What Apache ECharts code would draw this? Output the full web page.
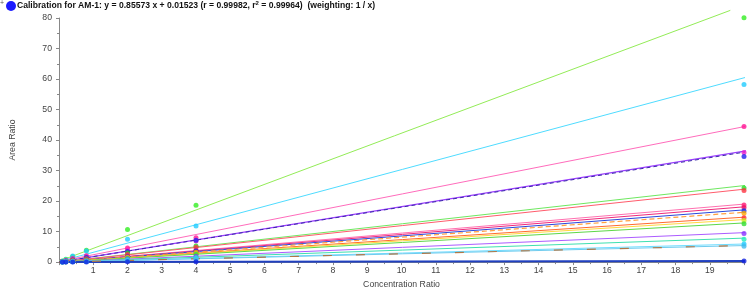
<!DOCTYPE html>
<html><head><meta charset="utf-8">
<script src="https://cdn.jsdelivr.net/npm/echarts@6/dist/echarts.min.js"></script>
<style>html,body{margin:0;padding:0;background:#fff}#c{width:750px;height:294px}</style>
</head><body><div id="c"></div>
<script>
// concentration levels of the calibration standards
const xVals = [0.1, 0.2, 0.4, 0.8, 2, 4, 20];
// measured area ratios per compound (one row per compound)
const pointValues = [
  [0.4, 0.9, 1.8, 3.9, 10.7, 18.6, 80.1],
  [0.3, 0.8, 2.0, 3.6, 7.5, 11.8, 58.2],
  [0.2, 0.5, 1.2, 2.1, 4.6, 8.0, 44.4],
  [0.2, 0.4, 0.8, 1.6, 3.8, 6.9, 35.9],
  [0.2, 0.3, 0.7, 1.5, 3.5, 7.2, 34.6],
  [0.1, 0.3, 0.6, 1.1, 3.0, 5.3, 24.3],
  [0.1, 0.3, 0.5, 1.0, 2.5, 4.9, 23.5],
  [0.1, 0.2, 0.4, 0.8, 2.0, 3.9, 18.7],
  [0.1, 0.2, 0.4, 0.7, 1.8, 3.6, 17.9],
  [0.1, 0.2, 0.3, 0.7, 1.75, 3.6, 16.8],
  [0.1, 0.2, 0.3, 0.6, 1.6, 3.2, 16.0],
  [0.1, 0.1, 0.3, 0.6, 1.5, 2.9, 14.5],
  [0.1, 0.1, 0.3, 0.5, 1.4, 2.8, 13.6],
  [0.1, 0.1, 0.3, 0.5, 1.3, 2.6, 12.6],
  [0.0, 0.1, 0.2, 0.4, 1.0, 1.9, 9.4],
  [0.0, 0.1, 0.2, 0.3, 0.8, 1.5, 7.5],
  [0.0, 0.1, 0.1, 0.2, 0.6, 1.2, 5.9],
  [0.0, 0.1, 0.1, 0.2, 0.5, 1.1, 5.2],
  [0.0, 0.0, 0.0, 0.0, 0.1, 0.1, 0.4]
];
// calibration fit lines: value at x=0, end x, value at end x
const fitStart = [0.3, 0.2, 0.2, 0.0, 0.0, 0.0, 0.0, 0.0, 0.0, 0.015, 0.0, 0.0, 0.0, 0.0, 0.0, 0.0, 0.0, 0.0, 0.0, 0.0];
const fitEndX  = [19.6, 20.1, 20.1, 20.1, 20.1, 20.1, 20.1, 20.1, 20.1, 20.1, 20.1, 20.1, 20.1, 20.1, 20.1, 20.1, 20.1, 20.1, 20.1, 20.1];
const fitEnd   = [82.5, 60.7, 44.6, 36.5, 36.2, 25.2, 24.0, 19.1, 18.2, 17.2, 16.4, 14.8, 14.0, 12.9, 9.7, 7.9, 5.95, 5.45, 0.4, 5.45];
const lineColors = ['#93ec57','#4fdcff','#ff6cbc','#9a3cff','#3a2aa8','#6ee860','#ff5c6c','#ff70b0','#ee2a7c','#2a48dc','#ffa040','#ff6a30','#ffd840','#5ed848','#ac5cff','#3ee0b0','#6cdcff','#70ccee','#2040c0','#b07848'];
const lineDash = ['solid','solid','solid','solid',[4,3],'solid','solid','solid','solid','solid',[5,3],'solid','solid','solid','solid','solid','solid','solid','solid',[9,24]];
const lineWidths = [1,1,1,1.2,1,1,1,1,1,1,1.2,1,1,1,1,1,1,1,2,1.2];
const pointColors = ['#33ee22','#22ccff','#ff1493','#ee22cc','#2222ee','#22dd22','#ff3344','#ff2277','#ee1166','#1133ee','#ffaa00','#ff3333','#ccee22','#33dd33','#8833ff','#22eebb','#22ccff','#44bbee','#1122dd'];
const yTicks = [0, 80, 10];
const xTicks = [0, 20, 1];

const FONT = "'Liberation Sans', Arial, sans-serif";
const series = [];
fitEnd.forEach((v, i) => {
  series.push({
    type: 'line', silent: true, clip: false, symbol: 'none', z: 2,
    data: [[0, fitStart[i]], [fitEndX[i], v]],
    lineStyle: { color: lineColors[i], width: lineWidths[i], type: lineDash[i] }
  });
});
pointValues.forEach((row, i) => {
  series.push({
    type: 'scatter', silent: true, clip: false, symbol: 'circle', symbolSize: 5, z: 3,
    data: row.map((v, j) => [xVals[j], v]),
    itemStyle: { color: pointColors[i] }
  });
});

const chart = echarts.init(document.getElementById('c'), null, { renderer: 'canvas' });
chart.setOption({
  animation: false,
  backgroundColor: '#ffffff',
  textStyle: { fontFamily: FONT },
  title: {
    left: 17, top: 0, padding: 0,
    text: '{b|Calibration for AM-1: y = 0.85573 x + 0.01523 (r = 0.99982, r}{s|2}{b| = 0.99964)  (weighting: 1 / x)}',
    textStyle: {
      rich: {
        b: { fontFamily: FONT, fontWeight: 'bold', fontSize: 8.6, color: '#111', lineHeight: 11 },
        s: { fontFamily: FONT, fontWeight: 'bold', fontSize: 6, color: '#111', verticalAlign: 'top', lineHeight: 8 }
      }
    }
  },
  graphic: [
    { type: 'circle', shape: { cx: 11, cy: 6, r: 5 }, style: { fill: '#1a1aff' } },
    { type: 'text', left: 0, top: 0, style: { text: '+', fontSize: 7, fill: '#555', fontFamily: FONT } }
  ],
  grid: { left: 57, right: 6, top: 18, bottom: 24 },
  xAxis: {
    type: 'value', min: xTicks[0], max: xTicks[1], interval: xTicks[2],
    name: 'Concentration Ratio', nameLocation: 'middle', nameGap: 12,
    nameTextStyle: { color: '#444', fontSize: 8.7, fontFamily: FONT },
    axisLine: { lineStyle: { color: '#888' } },
    axisTick: { length: 3, lineStyle: { color: '#888' } },
    minorTick: { show: true, splitNumber: 2, length: 2, lineStyle: { color: '#888' } },
    splitLine: { show: false },
    axisLabel: { showMinLabel: false, showMaxLabel: false, color: '#444', fontSize: 8.7, fontFamily: FONT, margin: 4 }
  },
  yAxis: {
    type: 'value', min: yTicks[0], max: yTicks[1], interval: yTicks[2], offset: 2,
    name: 'Area Ratio', nameLocation: 'middle', nameGap: 40, nameRotate: 90,
    nameTextStyle: { color: '#444', fontSize: 8.7, fontFamily: FONT },
    axisLine: { show: true, lineStyle: { color: '#888' } },
    axisTick: { show: true, length: 3, lineStyle: { color: '#888' } },
    minorTick: { show: true, splitNumber: 2, length: 2, lineStyle: { color: '#888' } },
    splitLine: { show: false },
    axisLabel: { color: '#444', fontSize: 8.7, fontFamily: FONT, margin: 5 }
  },
  series: series
});
</script></body></html>
